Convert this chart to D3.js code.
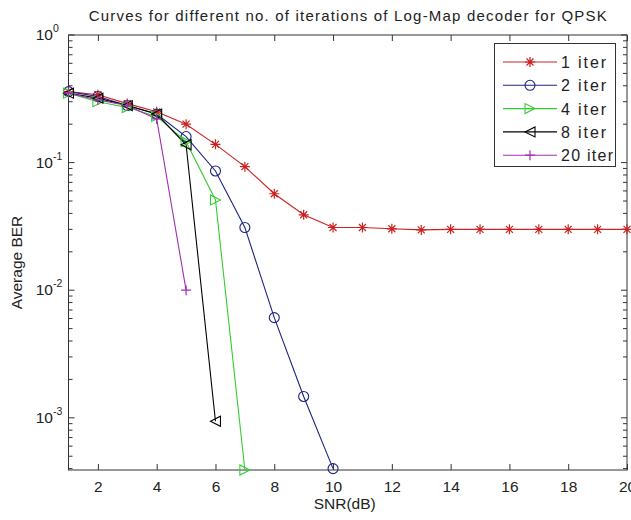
<!DOCTYPE html>
<html><head><meta charset="utf-8">
<script src="https://cdn.jsdelivr.net/npm/d3@7"></script>
<style>body{margin:0;background:#fff}svg{display:block}text{font-family:"Liberation Sans",Arial,sans-serif;fill:#222}</style>
</head><body><svg id="c" width="631" height="520"></svg>
<script>
const snr1 = [1,2,3,4,5,6,7,8,9,10,11,12,13,14,15,16,17,18,19,20];
const ber1 = [0.36,0.34,0.29,0.25,0.20,0.139,0.093,0.057,0.039,0.031,0.031,0.0303,0.0297,0.030,0.030,0.030,0.030,0.030,0.030,0.030];
const snr2 = [1,2,3,4,5,6,7,8,9,10];
const ber2 = [0.36,0.33,0.28,0.24,0.16,0.086,0.031,0.0061,0.00147,0.0004];
const snr4 = [1,2,3,4,5,6,7];
const ber4 = [0.35,0.30,0.27,0.23,0.146,0.051,0.00039];
const snr8 = [1,2,3,4,5,6];
const ber8 = [0.35,0.32,0.28,0.24,0.138,0.00094];
const snr20 = [1,2,3,4,5];
const ber20 = [0.35,0.31,0.28,0.22,0.01];
const seriesNames = ["1 iter","2 iter","4 iter","8 iter","20 iter"];
const xTicks = [2,4,6,8,10,12,14,16,18,20];
const yTicks = [1,0.1,0.01,0.001];
const yExp = ["0","-1","-2","-3"];
const titleText = "Curves for different no. of iterations of Log-Map decoder for QPSK";
const xLabel = "SNR(dB)";
const yLabel = "Average BER";

const colors = ["#cc2222","#1c2480","#33cc33","#000000","#a030b0"];
const markers = ["star","circle","triR","triL","plus"];
const series = [
  {x:snr1,y:ber1},{x:snr2,y:ber2},{x:snr4,y:ber4},{x:snr8,y:ber8},{x:snr20,y:ber20}
];

const svg = d3.select("#c");
const L=68.5, R=627, T=35, B=470;
const x = d3.scaleLinear().domain([1,20]).range([L,R]);
const y = d3.scaleLog().domain([0.00039,1]).range([B,T]);

// frame
svg.append("rect").attr("x",L).attr("y",T).attr("width",R-L).attr("height",B-T)
  .attr("fill","#fff").attr("stroke","#333").attr("stroke-width",1);

// axes
const ax = svg.append("g").attr("transform",`translate(0,${B})`)
  .call(d3.axisBottom(x).tickValues(xTicks).tickSizeInner(-6).tickSizeOuter(0).tickPadding(10.5));
const axT = svg.append("g").attr("transform",`translate(0,${T})`)
  .call(d3.axisTop(x).tickValues(xTicks).tickSizeInner(-6).tickSizeOuter(0).tickFormat(""));
[ax,axT].forEach(g=>{g.select(".domain").remove();g.selectAll("line").attr("stroke","#333");});
ax.selectAll("text").attr("font-size",15.5).attr("fill","#222").style("font-family","Liberation Sans, Arial");

// y ticks major + minor
const minor = [];
for (let e=-4;e<0;e++) for (let m=2;m<=9;m++){const v=m*Math.pow(10,e); if(v>=0.00039&&v<=1) minor.push(v);}
const gy = svg.append("g");
yTicks.forEach((v,i)=>{
  gy.append("line").attr("x1",L).attr("x2",L+6).attr("y1",y(v)).attr("y2",y(v)).attr("stroke","#333");
  gy.append("line").attr("x1",R).attr("x2",R-6).attr("y1",y(v)).attr("y2",y(v)).attr("stroke","#333");
  gy.append("text").attr("x",53).attr("y",y(v)+5).attr("text-anchor","end").attr("font-size",15.5).text("10");
  gy.append("text").attr("x",53).attr("y",y(v)-3).attr("font-size",10.5).text(yExp[i]);
});
minor.forEach(v=>{
  gy.append("line").attr("x1",L).attr("x2",L+4).attr("y1",y(v)).attr("y2",y(v)).attr("stroke","#333");
  gy.append("line").attr("x1",R).attr("x2",R-4).attr("y1",y(v)).attr("y2",y(v)).attr("stroke","#333");
});

// markers
function drawMarker(g, type, cx, cy, color){
  const s=5;
  if(type==="star"){
    g.append("path").attr("d",`M${cx-s},${cy}L${cx+s},${cy}M${cx},${cy-s}L${cx},${cy+s}M${cx-3.5},${cy-3.5}L${cx+3.5},${cy+3.5}M${cx-3.5},${cy+3.5}L${cx+3.5},${cy-3.5}`)
      .attr("stroke",color).attr("stroke-width",1.2).attr("fill","none");
  } else if(type==="circle"){
    g.append("circle").attr("cx",cx).attr("cy",cy).attr("r",s).attr("stroke",color).attr("fill","none").attr("stroke-width",1.1);
  } else if(type==="triR"){
    g.append("path").attr("d",`M${cx+s},${cy}L${cx-s},${cy-s}L${cx-s},${cy+s}Z`).attr("stroke",color).attr("fill","none").attr("stroke-width",1.1);
  } else if(type==="triL"){
    g.append("path").attr("d",`M${cx-s},${cy}L${cx+s},${cy-s}L${cx+s},${cy+s}Z`).attr("stroke",color).attr("fill","none").attr("stroke-width",1.1);
  } else if(type==="plus"){
    g.append("path").attr("d",`M${cx-s},${cy}L${cx+s},${cy}M${cx},${cy-s}L${cx},${cy+s}`).attr("stroke",color).attr("stroke-width",1.2).attr("fill","none");
  }
}

const line = d3.line().x(d=>x(d[0])).y(d=>y(d[1]));
const plot = svg.append("g");
series.forEach((s,i)=>{
  const pts = s.x.map((v,j)=>[v,s.y[j]]);
  plot.append("path").attr("d",line(pts)).attr("fill","none").attr("stroke",colors[i]).attr("stroke-width",1.1);
});
series.forEach((s,i)=>{
  s.x.forEach((v,j)=>drawMarker(plot,markers[i],x(v),y(s.y[j]),colors[i]));
});

// legend
const lg = svg.append("g");
lg.append("rect").attr("x",494.5).attr("y",43.5).attr("width",121).attr("height",123)
  .attr("fill","#fff").attr("stroke","#333");
const legW = [45,45,45,45,52];
seriesNames.forEach((n,i)=>{
  const ly = 62 + i*23.3;
  lg.append("line").attr("x1",503).attr("x2",557).attr("y1",ly).attr("y2",ly).attr("stroke",colors[i]).attr("stroke-width",1.1);
  drawMarker(lg,markers[i],530,ly,colors[i]);
  lg.append("text").attr("x",561).attr("y",ly+6).attr("font-size",16)
    .attr("textLength",legW[i]).attr("lengthAdjust","spacing").text(n);
});

// title & labels
svg.append("text").attr("x",(L+R)/2).attr("y",21).attr("text-anchor","middle").attr("font-size",15)
  .attr("textLength",518).attr("lengthAdjust","spacing").text(titleText);
svg.append("text").attr("x",(L+R)/2 - 3).attr("y",509).attr("text-anchor","middle").attr("font-size",15.5).text(xLabel);
svg.append("text").attr("transform",`translate(22,${(T+B)/2+10}) rotate(-90)`).attr("text-anchor","middle").attr("font-size",15.5).text(yLabel);
</script></body></html>
